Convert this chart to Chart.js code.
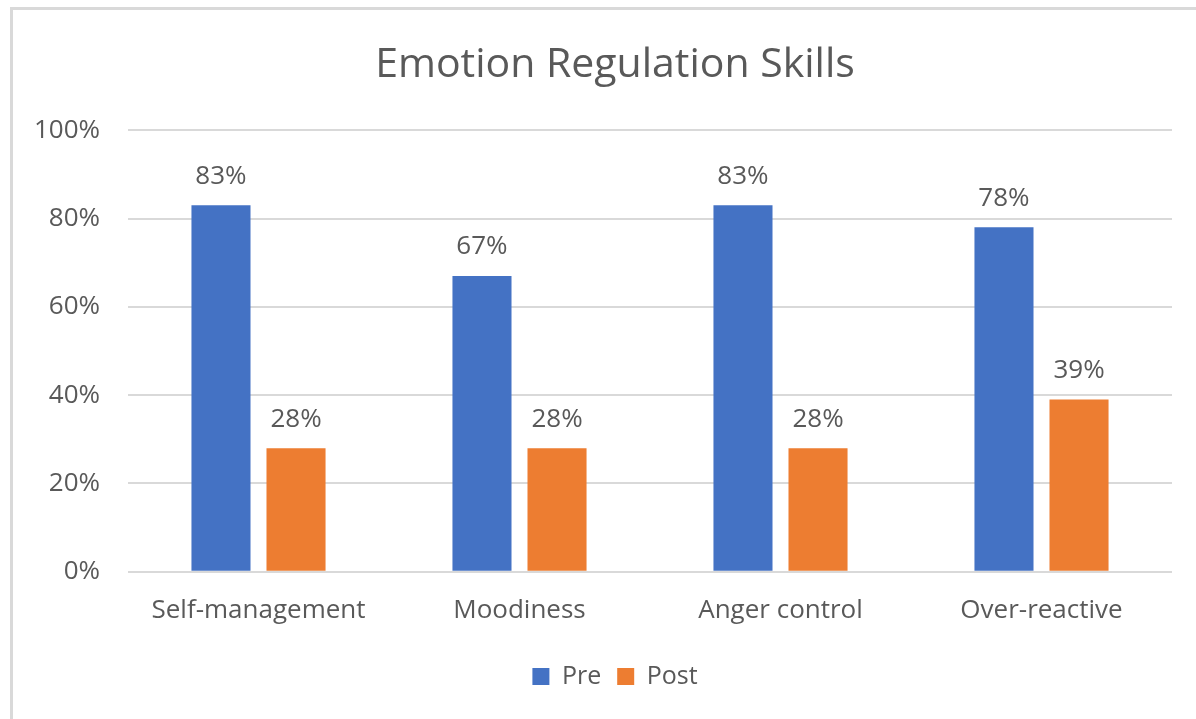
<!DOCTYPE html>
<html>
<head>
<meta charset="utf-8">
<script src="https://cdn.jsdelivr.net/npm/chart.js@4"></script>
<style>
  html, body { margin: 0; padding: 0; background: #ffffff; }
  #wrap { position: relative; width: 1196px; height: 719px; overflow: hidden; }
  #frame { position: absolute; left: 10px; top: 7px; width: 1300px; height: 800px;
           border-top: 3px solid #d9d9d9; border-left: 3px solid #d9d9d9; box-sizing: border-box; }
  canvas { position: absolute; left: 0; top: 0; }
</style>
</head>
<body>
<div id="wrap">
  <div id="frame"></div>
  <canvas id="c" width="1196" height="719"></canvas>
</div>
<script>
const categories = ["Self-management", "Moodiness", "Anger control", "Over-reactive"];
const preValues = [83, 67, 83, 78];
const postValues = [28, 28, 28, 39];
const yTicks = [0, 20, 40, 60, 80, 100];
const seriesNames = ["Pre", "Post"];

const FONT = "'Open Sans', sans-serif";
const TEXT = "#595959";

const dataLabels = {
  id: 'dataLabels',
  afterLayout(chart) {
    // let the y tick labels extend into the left padding without clipping
    if (chart.scales.y) chart.scales.y.left = 0;
  },
  afterDatasetsDraw(chart) {
    const ctx = chart.ctx;
    ctx.save();
    ctx.font = "26px " + FONT;
    ctx.fillStyle = TEXT;
    ctx.textAlign = 'center';
    ctx.textBaseline = 'middle';
    chart.data.datasets.forEach((ds, di) => {
      const meta = chart.getDatasetMeta(di);
      meta.data.forEach((el, i) => {
        ctx.fillText(ds.data[i] + '%', el.x, el.y - 29);
      });
    });
    ctx.restore();
  }
};

new Chart(document.getElementById('c'), {
  type: 'bar',
  data: {
    labels: categories,
    datasets: [
      { label: seriesNames[0], data: preValues, backgroundColor: '#4472C4' },
      { label: seriesNames[1], data: postValues, backgroundColor: '#ED7D31' }
    ]
  },
  options: {
    responsive: false,
    animation: false,
    devicePixelRatio: 1,
    categoryPercentage: 0.575,
    barPercentage: 0.787,
    layout: { padding: { left: 58, right: 24, top: 0, bottom: 20 } },
    plugins: {
      title: {
        display: true,
        text: 'Emotion Regulation Skills',
        color: TEXT,
        font: { family: FONT, size: 41, weight: 'normal' },
        padding: { top: 41, bottom: 40 }
      },
      legend: {
        position: 'bottom',
        labels: {
          color: TEXT,
          font: { family: FONT, size: 25 },
          boxWidth: 17,
          boxHeight: 17,
          padding: 16
        }
      },
      tooltip: { enabled: false }
    },
    scales: {
      x: {
        grid: { display: false },
        border: { display: false },
        afterFit(scale) { scale.height += 7; },
        ticks: { color: TEXT, font: { family: FONT, size: 26 }, padding: 15 }
      },
      y: {
        min: 0, max: 100,
        afterBuildTicks(scale) { scale.ticks = yTicks.map(v => ({ value: v })); },
        afterFit(scale) { scale.width = 70; },
        grid: { color: '#d9d9d9', lineWidth: 2, drawTicks: false },
        border: { display: false },
        ticks: {
          color: TEXT, font: { family: FONT, size: 26 }, padding: 28,
          callback: v => v + '%'
        }
      }
    }
  },
  plugins: [dataLabels]
});
</script>
</body>
</html>
